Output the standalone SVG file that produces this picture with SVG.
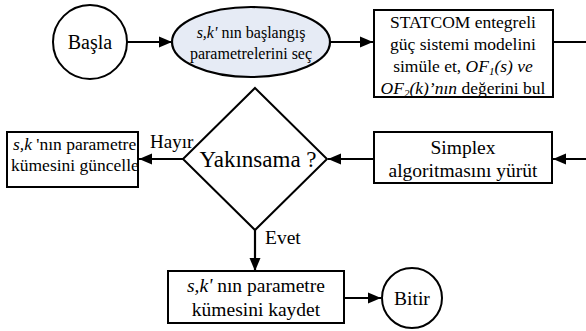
<svg xmlns="http://www.w3.org/2000/svg" width="586" height="331" viewBox="0 0 586 331">
<style>
text{font-family:"Liberation Serif","Times New Roman",serif;fill:#000}
.n{fill:#fff;stroke:#000;stroke-width:2}
.e{fill:#e6ebf5;stroke:#000;stroke-width:2.2}
.c{fill:none;stroke:#000;stroke-width:2.2}
.i{font-style:italic}
</style>
<defs>
<marker id="a" markerUnits="userSpaceOnUse" markerWidth="14" markerHeight="12" refX="13" refY="6" orient="auto">
<path d="M0,0.5 L13,6 L0,11.5 Z" fill="#000"/>
</marker>
<clipPath id="cl"><rect x="8" y="133" width="130" height="53"/></clipPath>
</defs>
<g id="connectors">
<line class="c" x1="127" y1="42" x2="172" y2="42" marker-end="url(#a)"/>
<line class="c" x1="330" y1="42" x2="373" y2="42" marker-end="url(#a)"/>
<line class="c" x1="553" y1="42" x2="586" y2="42"/>
<line class="c" x1="586" y1="159" x2="553" y2="159" marker-end="url(#a)"/>
<line class="c" x1="374" y1="159" x2="328" y2="159" marker-end="url(#a)"/>
<line class="c" x1="183" y1="159" x2="139" y2="159" marker-end="url(#a)"/>
<line class="c" x1="255" y1="230" x2="255" y2="271" marker-end="url(#a)"/>
<line class="c" x1="344" y1="298" x2="381" y2="298" marker-end="url(#a)"/>
<text x="150" y="148" font-size="19">Hayır</text>
<text x="265" y="244" font-size="19.5">Evet</text>
</g>
<g id="basla">
<circle class="n" cx="90" cy="42" r="37"/>
<text x="90" y="49" font-size="20" text-anchor="middle">Başla</text>
</g>
<g id="baslangic">
<ellipse class="e" cx="251" cy="42" rx="79" ry="35"/>
<text x="251" y="38" font-size="16" text-anchor="middle"><tspan class="i">s,k'</tspan> nın başlangış</text>
<text x="251" y="59" font-size="16" text-anchor="middle">parametrelerini seç</text>
</g>
<g id="statcom">
<rect class="n" x="374" y="10" width="179" height="87"/>
<text x="463" y="28" font-size="17.5" text-anchor="middle">STATCOM entegreli</text>
<text x="463" y="50" font-size="17.5" text-anchor="middle">güç sistemi modelini</text>
<text x="463" y="72" font-size="17.5" text-anchor="middle">simüle et, <tspan class="i">OF<tspan font-size="11" dy="3">1</tspan><tspan dy="-3">(s) ve</tspan></tspan></text>
<text x="463" y="94" font-size="17.5" text-anchor="middle"><tspan class="i">OF<tspan font-size="11" dy="3">2</tspan><tspan dy="-3">(k)’nın</tspan></tspan>  değerini bul</text>
</g>
<g id="simplex">
<rect class="n" x="374" y="132" width="178" height="51"/>
<text x="463" y="154" font-size="19.5" text-anchor="middle">Simplex</text>
<text x="463" y="177" font-size="19.5" text-anchor="middle">algoritmasını yürüt</text>
</g>
<g id="yakinsama">
<polygon class="n" points="255,88 327,159 255,230 183,159"/>
<text x="258" y="167" font-size="23" text-anchor="middle">Yakınsama ?</text>
</g>
<g id="guncelle">
<rect class="n" x="7" y="132" width="131" height="55"/>
<g clip-path="url(#cl)">
<text x="13" y="150" font-size="17.5"><tspan class="i">s,k</tspan> 'nın parametre</text>
<text x="11" y="171" font-size="17.5">kümesini güncelle</text>
</g>
</g>
<g id="kaydet">
<rect class="n" x="168" y="271" width="176" height="52"/>
<text x="256" y="292" font-size="19.5" text-anchor="middle"><tspan class="i">s,k'</tspan> nın parametre</text>
<text x="256" y="316" font-size="19.5" text-anchor="middle">kümesini kaydet</text>
</g>
<g id="bitir">
<circle class="n" cx="412" cy="298" r="30"/>
<text x="412" y="305" font-size="19.5" text-anchor="middle">Bitir</text>
</g>
</svg>
